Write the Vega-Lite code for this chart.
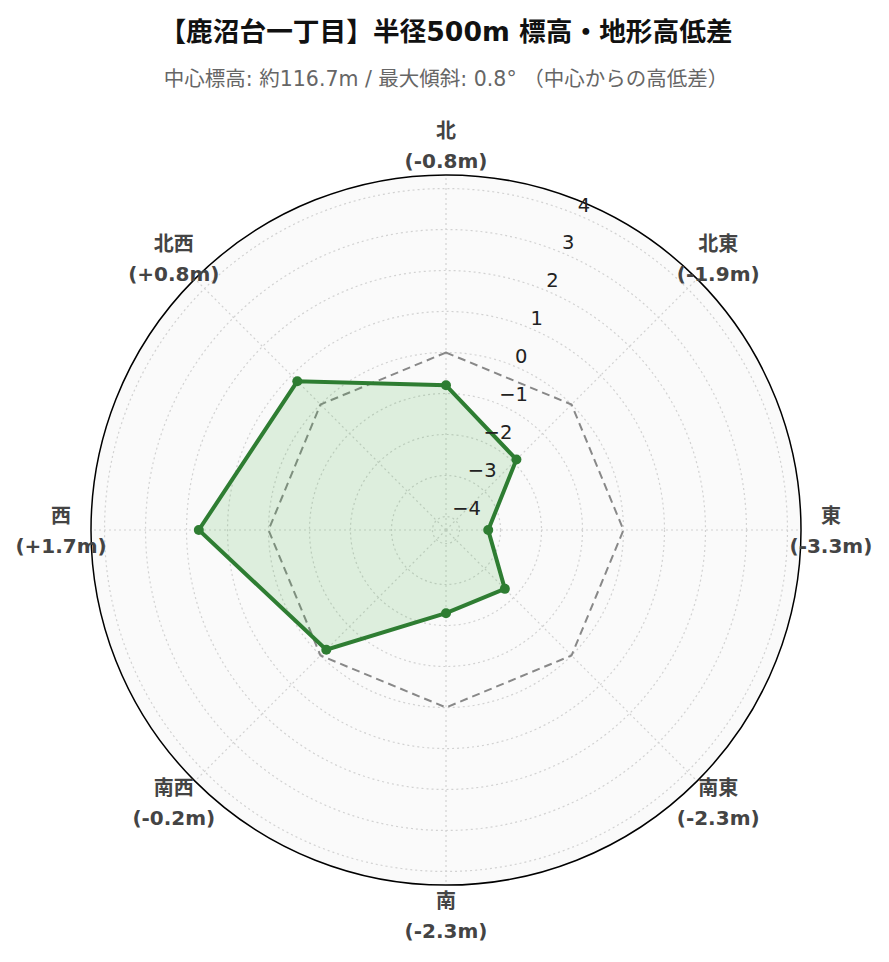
{
  "$schema": "https://vega.github.io/schema/vega-lite/v6.json",
  "autosize": {"type": "none"},
  "width": 710,
  "height": 710,
  "padding": {"top": 175, "left": 91, "right": 88, "bottom": 77},
  "background": "white",
  "title": {
    "text": "【鹿沼台一丁目】半径500m 標高・地形高低差",
    "subtitle": "中心標高: 約116.7m / 最大傾斜: 0.8° （中心からの高低差）",
    "font": "DejaVu Sans, Noto Sans CJK JP",
    "subtitleFont": "DejaVu Sans, Noto Sans CJK JP",
    "fontSize": 26.7,
    "fontWeight": "bold",
    "color": "#111111",
    "subtitleFontSize": 20.5,
    "subtitleColor": "#666666",
    "subtitlePadding": 23,
    "anchor": "middle",
    "offset": 32
  },
  "config": {"view": {"stroke": null}},
  "datasets": {
    "dirs": [
      {"dir": "北", "angle": 0, "value": -0.8, "label": "(-0.8m)"},
      {"dir": "北東", "angle": 45, "value": -1.9, "label": "(-1.9m)"},
      {"dir": "東", "angle": 90, "value": -3.3, "label": "(-3.3m)"},
      {"dir": "南東", "angle": 135, "value": -2.3, "label": "(-2.3m)"},
      {"dir": "南", "angle": 180, "value": -2.3, "label": "(-2.3m)"},
      {"dir": "南西", "angle": 225, "value": -0.2, "label": "(-0.2m)"},
      {"dir": "西", "angle": 270, "value": 1.7, "label": "(+1.7m)"},
      {"dir": "北西", "angle": 315, "value": 0.8, "label": "(+0.8m)"}
    ],
    "ref": [
      {"angle": 0, "value": 0}, {"angle": 45, "value": 0}, {"angle": 90, "value": 0},
      {"angle": 135, "value": 0}, {"angle": 180, "value": 0}, {"angle": 225, "value": 0},
      {"angle": 270, "value": 0}, {"angle": 315, "value": 0}
    ],
    "grid": [
      {"v": -4, "t": "−4"}, {"v": -3, "t": "−3"}, {"v": -2, "t": "−2"}, {"v": -1, "t": "−1"},
      {"v": 0, "t": "0"}, {"v": 1, "t": "1"}, {"v": 2, "t": "2"}, {"v": 3, "t": "3"}, {"v": 4, "t": "4"}
    ],
    "outer": [{"v": 4.33}]
  },
  "layer": [
    {
      "data": {"name": "outer"},
      "transform": [
        {"calculate": "datum.v + 4.33", "as": "r"},
        {"calculate": "0", "as": "c"}
      ],
      "mark": {"type": "point", "shape": "circle", "filled": true, "fill": "#fafafa", "stroke": "#000000", "strokeWidth": 1.5, "opacity": 1, "fillOpacity": 1, "strokeOpacity": 1},
      "encoding": {
        "x": {"field": "c", "type": "quantitative", "scale": {"domain": [-8.66, 8.66], "nice": false, "zero": false}, "axis": null},
        "y": {"field": "c", "type": "quantitative", "scale": {"domain": [-8.66, 8.66], "nice": false, "zero": false}, "axis": null},
        "size": {"field": "r", "type": "quantitative", "scale": {"type": "pow", "exponent": 2, "domain": [0, 8.66], "range": [0, 504100]}, "legend": null}
      }
    },
    {
      "data": {"name": "grid"},
      "transform": [
        {"calculate": "datum.v + 4.33", "as": "r"},
        {"calculate": "0", "as": "c"}
      ],
      "mark": {"type": "point", "shape": "circle", "filled": false, "stroke": "#d2d2d2", "strokeWidth": 1.2, "strokeDash": [2, 3], "opacity": 1},
      "encoding": {
        "x": {"field": "c", "type": "quantitative"},
        "y": {"field": "c", "type": "quantitative"},
        "size": {"field": "r", "type": "quantitative", "legend": null}
      }
    },
    {
      "data": {"name": "ref"},
      "transform": [
        {"calculate": "0", "as": "c"},
        {"calculate": "8.66 * sin(datum.angle * PI / 180)", "as": "ex"},
        {"calculate": "8.66 * cos(datum.angle * PI / 180)", "as": "ey"}
      ],
      "mark": {"type": "rule", "color": "#d2d2d2", "strokeWidth": 1.2, "strokeDash": [2, 3]},
      "encoding": {
        "x": {"field": "c", "type": "quantitative"},
        "y": {"field": "c", "type": "quantitative"},
        "x2": {"field": "ex"},
        "y2": {"field": "ey"}
      }
    },
    {
      "data": {"name": "ref"},
      "transform": [
        {"calculate": "(datum.value + 4.33) * sin(datum.angle * PI / 180)", "as": "px"},
        {"calculate": "(datum.value + 4.33) * cos(datum.angle * PI / 180)", "as": "py"}
      ],
      "mark": {"type": "line", "interpolate": "linear-closed", "color": "#888888", "strokeWidth": 2, "strokeDash": [8, 5]},
      "encoding": {
        "x": {"field": "px", "type": "quantitative"},
        "y": {"field": "py", "type": "quantitative"},
        "order": {"field": "angle", "type": "quantitative"}
      }
    },
    {
      "data": {"name": "dirs"},
      "transform": [
        {"calculate": "(datum.value + 4.33) * sin(datum.angle * PI / 180)", "as": "px"},
        {"calculate": "(datum.value + 4.33) * cos(datum.angle * PI / 180)", "as": "py"}
      ],
      "mark": {"type": "line", "interpolate": "linear-closed", "stroke": "#2e7d32", "fill": "#4caf50", "fillOpacity": 0.17, "strokeWidth": 4},
      "encoding": {
        "x": {"field": "px", "type": "quantitative"},
        "y": {"field": "py", "type": "quantitative"},
        "order": {"field": "angle", "type": "quantitative"}
      }
    },
    {
      "data": {"name": "dirs"},
      "transform": [
        {"calculate": "(datum.value + 4.33) * sin(datum.angle * PI / 180)", "as": "px"},
        {"calculate": "(datum.value + 4.33) * cos(datum.angle * PI / 180)", "as": "py"}
      ],
      "mark": {"type": "point", "shape": "circle", "filled": true, "color": "#2e7d32", "size": 100, "opacity": 1},
      "encoding": {
        "x": {"field": "px", "type": "quantitative"},
        "y": {"field": "py", "type": "quantitative"}
      }
    },
    {
      "data": {"name": "grid"},
      "transform": [
        {"calculate": "(datum.v + 4.33) * sin(22.5 * PI / 180)", "as": "px"},
        {"calculate": "(datum.v + 4.33) * cos(22.5 * PI / 180)", "as": "py"}
      ],
      "mark": {"type": "text", "align": "left", "baseline": "middle", "dx": 1, "dy": -9, "font": "DejaVu Sans", "fontSize": 19.5, "color": "#222222"},
      "encoding": {
        "x": {"field": "px", "type": "quantitative"},
        "y": {"field": "py", "type": "quantitative"},
        "text": {"field": "t", "type": "nominal"}
      }
    },
    {
      "data": {"name": "dirs"},
      "transform": [
        {"calculate": "9.39 * sin(datum.angle * PI / 180)", "as": "px"},
        {"calculate": "9.39 * cos(datum.angle * PI / 180)", "as": "py"},
        {"calculate": "datum.dir + '\\n' + datum.label", "as": "txt"}
      ],
      "mark": {"type": "text", "align": "center", "baseline": "middle", "dy": -13, "lineBreak": "\n", "lineHeight": 30, "font": "DejaVu Sans, Noto Sans CJK JP", "fontSize": 20, "fontWeight": "bold", "color": "#444444"},
      "encoding": {
        "x": {"field": "px", "type": "quantitative"},
        "y": {"field": "py", "type": "quantitative"},
        "text": {"field": "txt", "type": "nominal"}
      }
    }
  ]
}
